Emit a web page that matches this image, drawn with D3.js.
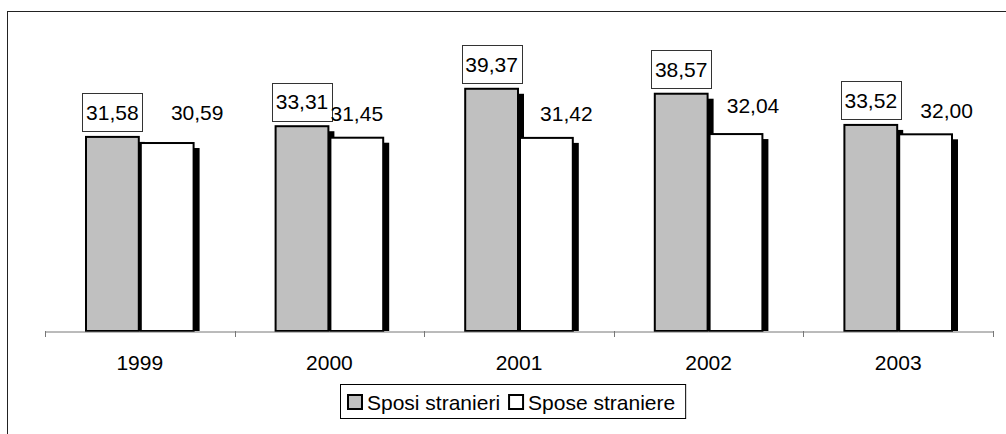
<!DOCTYPE html>
<html>
<head>
<meta charset="utf-8">
<script src="https://cdn.jsdelivr.net/npm/d3@7/dist/d3.min.js"></script>
<style>
body { margin: 0; background: #fff; }
svg { display: block; }
text { font-family: "Liberation Sans", Arial, sans-serif; fill: #000; }
</style>
</head>
<body>
<svg></svg>
<script>
"use strict";

var years = ['1999', '2000', '2001', '2002', '2003'];
var sposi = [31.58, 33.31, 39.37, 38.57, 33.52];
var spose = [30.59, 31.45, 31.42, 32.04, 32.00];
var seriesNames = ['Sposi stranieri', 'Spose straniere'];
var seriesFill = ['#c0c0c0', '#ffffff'];

// the second series labels were dragged by hand in the original: [dx, dy]
var sposeLabelNudge = [[30, -6], [0, 0], [20, 0], [17, -4], [21, 1]];

var width = 1006, height = 434;
var fontSize = 21;
var baseY = 331;

var svg = d3.select('svg').attr('width', width).attr('height', height);

var locale = d3.formatLocale({decimal: ',', thousands: '.', grouping: [3], currency: ['', '']});
var fmt = locale.format('.2f');

// outer frame (runs off the right and bottom edge)
svg.append('rect')
    .attr('x', 7.5).attr('y', 11.5)
    .attr('width', 1010).attr('height', 440)
    .attr('fill', 'none').attr('stroke', '#222').attr('stroke-width', 1);

var x0 = d3.scaleBand().domain(years).range([45, 993]);
var x1 = d3.scaleBand().domain([0, 1]).range([40, x0.bandwidth() - 40]);
var y = d3.scaleLinear().domain([0, 45]).range([baseY, 53]);

var groups = years.map((yr, i) => ({year: yr, values: [sposi[i], spose[i]], i: i}));

// bars, shadow first then bar, series by series
var shadowDx = 5, shadowDy = 6;
[0, 1].forEach(s => {
    var g = svg.append('g');
    groups.forEach(d => {
        var bx = x0(d.year) + x1(s);
        var top = y(d.values[s]);
        g.append('rect')
            .attr('x', bx + shadowDx).attr('y', top + shadowDy)
            .attr('width', x1.bandwidth()).attr('height', baseY - top - shadowDy)
            .attr('fill', '#000');
        g.append('rect')
            .attr('x', bx + 1).attr('y', top + 1)
            .attr('width', x1.bandwidth() - 2).attr('height', baseY - top - 1)
            .attr('fill', seriesFill[s]).attr('stroke', '#000').attr('stroke-width', 2);
    });
});

// axis
var axis = d3.axisBottom(x0).tickSize(0).tickSizeOuter(0).tickPadding(24);
var ax = svg.append('g').attr('transform', `translate(0,${baseY})`).call(axis);
ax.select('.domain').attr('stroke', '#777').attr('stroke-width', 1)
    .attr('transform', 'translate(0,0.5)');
ax.selectAll('text').style('font-size', fontSize + 'px').attr('font-family', null);

var tickX = years.map(d => x0(d)).concat([x0.range()[1]]);
svg.append('g').selectAll('line').data(tickX).join('line')
    .attr('x1', d => Math.round(d) + 0.5).attr('x2', d => Math.round(d) + 0.5)
    .attr('y1', baseY).attr('y2', baseY + 6)
    .attr('stroke', '#777');

// boxed labels over the first series
var boxW = 60, boxH = 38;
var lab = svg.append('g');
groups.forEach(d => {
    var cx = x0(d.year) + x1(0) + x1.bandwidth() / 2;
    var bottom = y(d.values[0]) - 4.5;
    lab.append('rect')
        .attr('x', Math.round(cx - boxW / 2) + 0.5).attr('y', Math.round(bottom - boxH) + 0.5)
        .attr('width', boxW).attr('height', boxH)
        .attr('fill', '#fff').attr('stroke', '#333').attr('stroke-width', 1);
    lab.append('text')
        .attr('x', cx).attr('y', bottom - boxH / 2 + 7.4)
        .attr('text-anchor', 'middle').style('font-size', fontSize + 'px')
        .text(fmt(d.values[0]));
});

// free labels over the second series
groups.forEach(d => {
    var cx = x0(d.year) + x1(1) + x1.bandwidth() / 2 + sposeLabelNudge[d.i][0];
    var cy = y(d.values[1]) - 23.5 + sposeLabelNudge[d.i][1];
    lab.append('text')
        .attr('x', cx).attr('y', cy + 7.4)
        .attr('text-anchor', 'middle').style('font-size', fontSize + 'px')
        .text(fmt(d.values[1]));
});

// legend
var legend = svg.append('g');
var legBox = legend.append('rect')
    .attr('x', 340.5).attr('y', 384.5).attr('height', 34)
    .attr('fill', '#fff').attr('stroke', '#000').attr('stroke-width', 1);
var lx = 347;
seriesNames.forEach((name, s) => {
    legend.append('rect')
        .attr('x', lx + 1).attr('y', 395)
        .attr('width', 14).attr('height', 14)
        .attr('fill', seriesFill[s]).attr('stroke', '#000').attr('stroke-width', 2);
    var t = legend.append('text')
        .attr('x', lx + 20).attr('y', 409.5)
        .style('font-size', fontSize + 'px')
        .text(name);
    lx = lx + 20 + t.node().getComputedTextLength() + 8;
});
legBox.attr('width', lx - 8 + 10 - 340);
</script>
</body>
</html>
